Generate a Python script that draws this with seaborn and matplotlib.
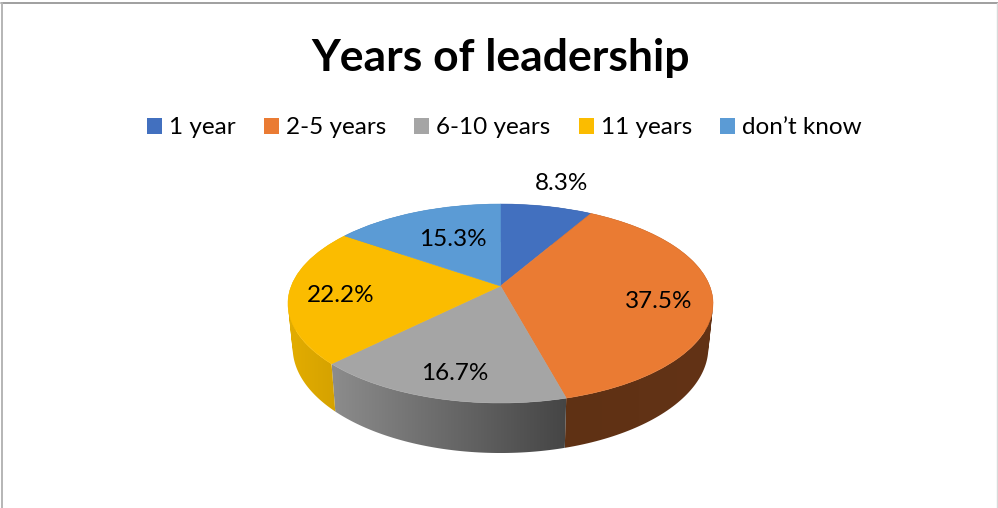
import matplotlib
matplotlib.use('Agg')
import matplotlib.pyplot as plt
import matplotlib.transforms as mtransforms
from matplotlib.colors import LinearSegmentedColormap
from matplotlib.lines import Line2D
from matplotlib.patches import Patch
from matplotlib.path import Path
import numpy as np
import seaborn as sns

sns.set_style('white')
plt.rcParams['font.family'] = ['Lato', 'DejaVu Sans']

categories = ['1 year', '2-5 years', '6-10 years', '11 years', 'don\u2019t know']
shares = [8.3, 37.5, 16.7, 22.2, 15.3]
title = 'Years of leadership'

colors = sns.color_palette(['#4270BF', '#EA7B33', '#A5A5A5', '#FBBC00', '#5B9BD5'])
# side wall colours, left end and right end of each slice
wall_colors = [('#27437a', '#27437a'), ('#5f3114', '#633316'), ('#8c8c8c', '#454545'),
               ('#e3ad00', '#d19f00'), ('#2f6ba3', '#2f6ba3')]
label_xy = [(562, 183), (659, 302), (455, 373), (341, 295), (453, 239)]

# pie geometry in pixels, apex sits above the middle of the ellipse (perspective)
CX, CY = 500.5, 286
A, B, K = 209.2, 96.4, 0.176


def tilt(x, y):
    w = 1 + K * y
    return A * x / w, B * y / w


def signed_area(q):
    x, y = q[:, 0], q[:, 1]
    return np.sum(x * np.roll(y, -1) - np.roll(x, -1) * y)


class Tilt(mtransforms.Transform):
    input_dims = 2
    output_dims = 2
    is_affine = False

    def transform_non_affine(self, values):
        values = np.asarray(values)
        px, py = tilt(values[:, 0], values[:, 1])
        return np.column_stack([CX + px, CY - py])


fig = plt.figure(figsize=(9.98, 5.08), dpi=100)
ax = fig.add_axes([0, 0, 1, 1])

wedges, _ = ax.pie(shares, startangle=90, counterclock=False, colors=colors,
                   wedgeprops={'linewidth': 0.4})
for w, c in zip(wedges, colors):
    w.set_edgecolor(c)
    w.set_transform(Tilt() + ax.transData)
    w.set_zorder(3)

# side wall, one gradient per slice clipped to quads along the rim
# quads all wound the same way, otherwise they cancel at the left and right ends
for w, (c1, c2) in zip(wedges, wall_colors):
    t = np.radians(np.linspace(w.theta1, w.theta2, 120))
    px, py = tilt(np.cos(t), np.sin(t))
    top = np.column_stack([CX + px, CY - py])
    bot = np.column_stack([CX + 0.978 * px, CY - (1.06 * py - 43)])
    quads = []
    for i in range(len(t) - 1):
        quad = np.array([top[i], top[i + 1], bot[i + 1], bot[i]])
        if signed_area(quad) < 0:
            quad = quad[::-1]
        quads.append(Path(np.vstack([quad, quad[0]]), closed=True))
    clip = Path.make_compound_path(*quads)
    pts = np.vstack([top, bot])
    cmap = LinearSegmentedColormap.from_list('wall', [c1, c2])
    im = ax.imshow(np.linspace(0, 1, 256)[None, :], cmap=cmap, aspect='auto', zorder=2,
                   extent=(pts[:, 0].min(), pts[:, 0].max(), pts[:, 1].max(), pts[:, 1].min()),
                   interpolation='bilinear')
    im.set_clip_path(clip, transform=ax.transData)

ax.set_aspect('auto')
ax.set_xlim(0, 998)
ax.set_ylim(508, 0)

for v, (x, y) in zip(shares, label_xy):
    ax.text(x, y, f'{v:.1f}%', ha='center', va='center', fontsize=17.5, color='black', zorder=5)

ax.text(500.5, 58, title, ha='center', va='center', fontsize=32, fontweight='bold', color='black')

handles = [Patch(facecolor=c, edgecolor='none', label=n) for c, n in zip(colors, categories)]
ax.legend(handles=handles, ncol=5, loc='center', bbox_to_anchor=(504.5 / 998, 1 - 128 / 508),
          frameon=False, fontsize=17.5, handlelength=0.62, handleheight=0.62,
          handletextpad=0.29, columnspacing=1.15, borderpad=0, labelcolor='black')

# chart area border, only top and sides show
fig.add_artist(Line2D([1 / 998, 998 / 998], [1 - 3 / 508, 1 - 3 / 508], color='#8f8f8f', lw=1.2))
fig.add_artist(Line2D([2 / 998, 2 / 998], [0, 1 - 3 / 508], color='#b5b5b5', lw=1.4))
fig.add_artist(Line2D([997 / 998, 997 / 998], [0, 1 - 3 / 508], color='#d9d9d9', lw=1))

fig.savefig('out.png', dpi=100)
